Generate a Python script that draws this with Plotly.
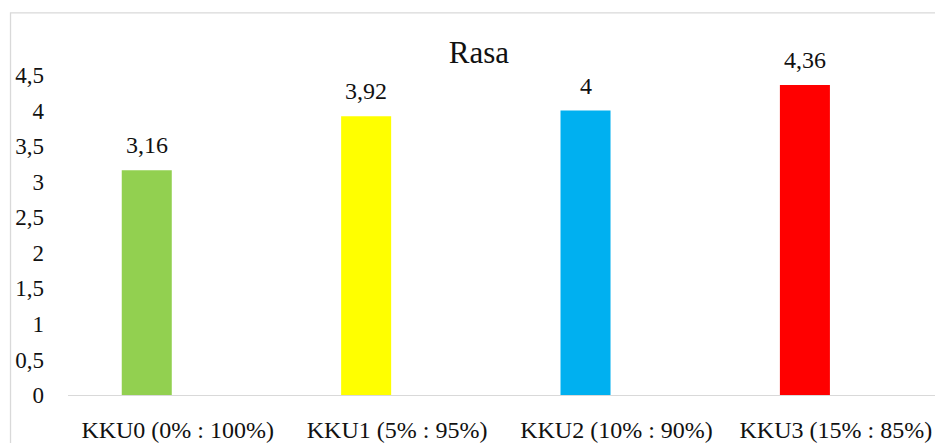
import plotly.graph_objects as go

categories = ["KKU0 (0% : 100%)", "KKU1 (5% : 95%)", "KKU2 (10% : 90%)", "KKU3 (15% : 85%)"]
values = [3.16, 3.92, 4.0, 4.36]
colors = ["#92d050", "#ffff00", "#00b0f0", "#ff0000"]
y_ticks = [0, 0.5, 1, 1.5, 2, 2.5, 3, 3.5, 4, 4.5]
title_text = "Rasa"

FONT = "'Liberation Serif', 'Times New Roman', Tinos, 'DejaVu Serif', serif"
TXT = "#111111"
BAR_W = 0.228
BAR_SHIFT = -0.141  # bar centre relative to category centre

def fmt(v):
    return ("%g" % v).replace(".", ",")

fig = go.Figure()
fig.add_trace(go.Bar(
    x=categories, y=values,
    marker=dict(color=colors, line=dict(width=0)),
    width=BAR_W, offset=BAR_SHIFT - BAR_W / 2,
    hoverinfo="skip",
))

for i, v in enumerate(values):
    fig.add_annotation(
        x=i + BAR_SHIFT, y=v, xref="x", yref="y",
        text=fmt(v), showarrow=False, yanchor="bottom", yshift=10,
        font=dict(family=FONT, size=24, color=TXT),
    )

fig.add_shape(type="rect", xref="paper", yref="paper",
              x0=-0.0663, x1=1.2, y0=-0.3, y1=1.194,
              line=dict(color="#d9d9d9", width=1.3), layer="below")

fig.update_layout(
    width=935, height=443,
    margin=dict(l=68, r=0, t=75, b=42),
    paper_bgcolor="white", plot_bgcolor="white",
    separators=",.",
    showlegend=False,
    title=dict(text=title_text, x=479 / 935, xanchor="center", xref="container",
               y=1 - 52 / 443, yanchor="middle", yref="container",
               font=dict(family=FONT, size=31, color=TXT)),
    font=dict(family=FONT, color=TXT),
    xaxis=dict(range=[-0.5, 3.452], showline=True, linecolor="#d9d9d9", linewidth=1,
               showgrid=False, zeroline=False, ticks="", ticklabelstandoff=13,
               tickfont=dict(family=FONT, size=24, color=TXT), fixedrange=True),
    yaxis=dict(range=[0, 4.5], tickvals=y_ticks, showline=False, showgrid=False,
               zeroline=False, ticks="", ticklabelstandoff=23,
               tickfont=dict(family=FONT, size=23, color=TXT), fixedrange=True),
)

fig.write_html("out.html", config={"staticPlot": True},
               post_script="document.body.style.margin='0';document.body.style.overflow='hidden';")
